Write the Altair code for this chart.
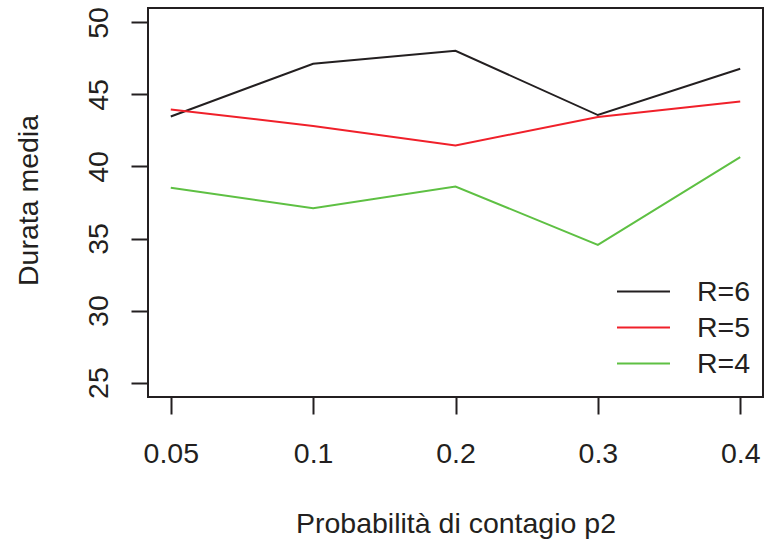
import altair as alt
import pandas as pd

p2_labels = ["0.05", "0.1", "0.2", "0.3", "0.4"]
series_names = ["R=6", "R=5", "R=4"]
r6 = [43.47, 47.13, 48.03, 43.57, 46.78]
r5 = [43.96, 42.81, 41.46, 43.43, 44.51]
r4 = [38.52, 37.11, 38.61, 34.56, 40.65]
colors = ["#231F20", "#F0202A", "#5EC043"]

rows = []
for name, vals in zip(series_names, [r6, r5, r4]):
    for p, v in zip(p2_labels, vals):
        rows.append({"p2": p, "durata": v, "serie": name})
df = pd.DataFrame(rows)

FONT = "Liberation Sans"
FS = 28.5
INK = "#231F20"

chart = alt.Chart(df).mark_line(strokeWidth=2).encode(
    x=alt.X("p2:N", sort=p2_labels,
            scale=alt.Scale(type="point", padding=0.16),
            axis=alt.Axis(title="Probabilità di contagio p2", labelAngle=0,
                          domain=False, grid=False, tickSize=17, tickWidth=2,
                          tickColor=INK, labelFont=FONT, labelFontSize=FS,
                          labelColor=INK, labelBaseline="alphabetic",
                          labelPadding=48, titleFont=FONT, titleFontSize=FS,
                          titleFontWeight="normal", titleColor=INK,
                          titleBaseline="alphabetic", titleY=135)),
    y=alt.Y("durata:Q",
            scale=alt.Scale(domain=[24, 51], nice=False, zero=False),
            axis=alt.Axis(title="Durata media", values=[25, 30, 35, 40, 45, 50],
                          domain=False, grid=False, tickSize=17, tickWidth=2,
                          tickColor=INK, labelFont=FONT, labelFontSize=FS,
                          labelColor=INK, labelAngle=270, labelAlign="center",
                          labelBaseline="alphabetic", labelPadding=23.5,
                          titleFont=FONT, titleFontSize=FS, titleFontWeight="normal",
                          titleColor=INK, titleBaseline="alphabetic",
                          titleAngle=270, titleX=-111, titleY=192)),
    color=alt.Color("serie:N", sort=series_names,
                    scale=alt.Scale(domain=series_names, range=colors),
                    legend=alt.Legend(title=None, orient="none", legendX=481,
                                      legendY=269, symbolType="M-2,0H2",
                                      symbolSize=702, symbolStrokeWidth=2,
                                      labelFont=FONT, labelFontSize=FS,
                                      labelColor=INK, labelOffset=39,
                                      rowPadding=7, padding=0)),
).properties(
    width=615, height=389,
    background="white",
    autosize=alt.AutoSizeParams(type="none"),
    padding={"left": 148, "top": 8, "right": 4, "bottom": 149},
).configure_view(
    stroke=INK, strokeWidth=2
)

chart.save("out.html", embed_options={"renderer": "svg", "actions": False})
